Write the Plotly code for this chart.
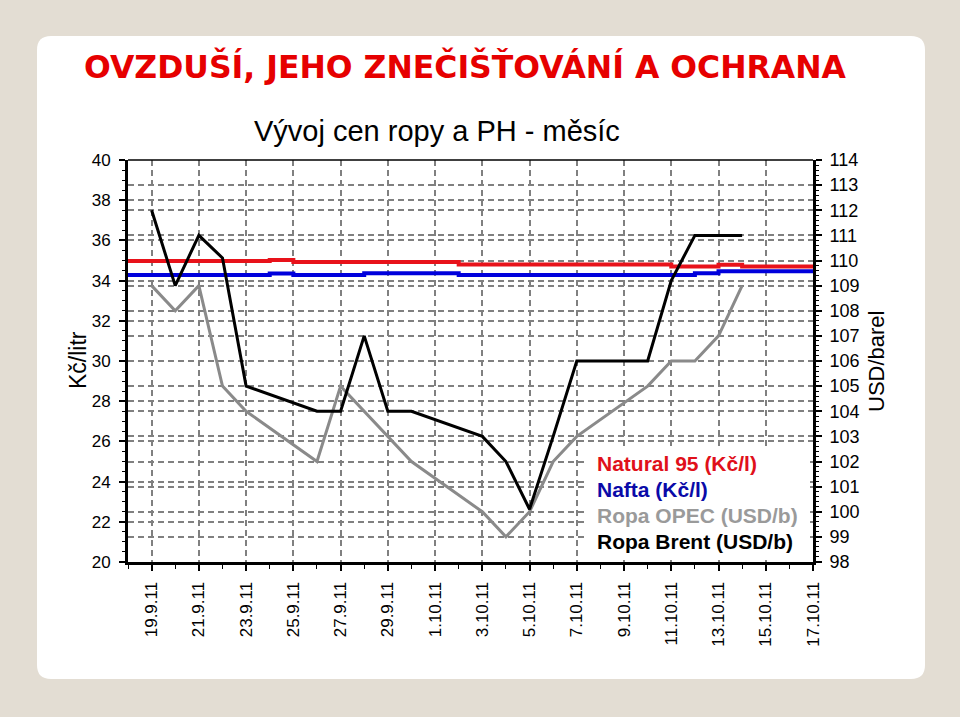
import plotly.graph_objects as go

# ---------------- data ----------------
all_days = ["2011-09-18", "2011-09-19", "2011-09-20", "2011-09-21", "2011-09-22", "2011-09-23",
            "2011-09-24", "2011-09-25", "2011-09-26", "2011-09-27", "2011-09-28", "2011-09-29",
            "2011-09-30", "2011-10-01", "2011-10-02", "2011-10-03", "2011-10-04", "2011-10-05",
            "2011-10-06", "2011-10-07", "2011-10-08", "2011-10-09", "2011-10-10", "2011-10-11",
            "2011-10-12", "2011-10-13", "2011-10-14", "2011-10-15", "2011-10-16", "2011-10-17"]

natural95 = [34.97, 34.97, 34.97, 34.97, 34.97, 34.97, 35.02, 34.92, 34.92, 34.92, 34.92, 34.92,
             34.92, 34.92, 34.80, 34.80, 34.80, 34.80, 34.80, 34.80, 34.80, 34.80, 34.80, 34.70,
             34.70, 34.79, 34.70, 34.70, 34.70, 34.70]
nafta = [34.28, 34.28, 34.28, 34.28, 34.28, 34.28, 34.35, 34.28, 34.28, 34.28, 34.36, 34.36,
         34.36, 34.36, 34.28, 34.28, 34.28, 34.28, 34.28, 34.28, 34.28, 34.28, 34.28, 34.28,
         34.36, 34.47, 34.47, 34.47, 34.47, 34.47]

trade_days = ["2011-09-19", "2011-09-20", "2011-09-21", "2011-09-22", "2011-09-23",
              "2011-09-26", "2011-09-27", "2011-09-28", "2011-09-29", "2011-09-30",
              "2011-10-03", "2011-10-04", "2011-10-05", "2011-10-06", "2011-10-07",
              "2011-10-10", "2011-10-11", "2011-10-12", "2011-10-13", "2011-10-14"]
ropa_opec = [109.0, 108.0, 109.0, 105.0, 104.0,
             102.0, 105.0, 104.0, 103.0, 102.0,
             100.0, 99.0, 100.0, 102.0, 103.0,
             105.0, 106.0, 106.0, 107.0, 109.0]
ropa_brent = [112.0, 109.0, 111.0, 110.1, 105.0,
              104.0, 104.0, 107.0, 104.0, 104.0,
              103.0, 102.0, 100.1, 103.0, 106.0,
              106.0, 109.2, 111.0, 111.0, 111.0]

tick_dates = ["2011-09-19", "2011-09-21", "2011-09-23", "2011-09-25", "2011-09-27", "2011-09-29",
              "2011-10-01", "2011-10-03", "2011-10-05", "2011-10-07", "2011-10-09", "2011-10-11",
              "2011-10-13", "2011-10-15", "2011-10-17"]
tick_labels = ["19.9.11", "21.9.11", "23.9.11", "25.9.11", "27.9.11", "29.9.11",
               "1.10.11", "3.10.11", "5.10.11", "7.10.11", "9.10.11", "11.10.11",
               "13.10.11", "15.10.11", "17.10.11"]

series_names = ["Natural 95 (Kč/l)", "Nafta (Kč/l)", "Ropa OPEC (USD/b)", "Ropa Brent (USD/b)"]

# ---------------- layout geometry (pixels) ----------------
W, H = 960, 717
L, R, T, B = 128, 813, 160, 562   # plot area edges
PW, PH = R - L, B - T


def px(x):
    return (x - L) / PW


def py(y):
    return (B - y) / PH


RED = "#e8121a"
BLUE = "#0000dc"
GREY = "#8a8a8a"
BLACK = "#000000"

fig = go.Figure()
fig.add_trace(go.Scatter(x=all_days, y=natural95, mode="lines", line=dict(color=RED, width=4, shape="hv"),
                         name=series_names[0], showlegend=False))
fig.add_trace(go.Scatter(x=all_days, y=nafta, mode="lines", line=dict(color=BLUE, width=4, shape="hv"),
                         name=series_names[1], showlegend=False))
fig.add_trace(go.Scatter(x=trade_days, y=ropa_opec, mode="lines", line=dict(color=GREY, width=3),
                         name=series_names[2], yaxis="y2", showlegend=False))
fig.add_trace(go.Scatter(x=trade_days, y=ropa_brent, mode="lines", line=dict(color=BLACK, width=3),
                         name=series_names[3], yaxis="y2", showlegend=False))

tickfont = dict(family="Liberation Sans, Arial", size=17, color="black")
grid = dict(showgrid=True, gridcolor="#808080", gridwidth=1.5, griddash="6px,4px")

fig.update_layout(
    width=W, height=H,
    margin=dict(l=L, r=W - R, t=T, b=H - B, pad=0),
    paper_bgcolor="#e3ddd3",
    plot_bgcolor="white",
    showlegend=False,
    xaxis=dict(type="date", range=[all_days[0], all_days[-1]],
               tickmode="array", tickvals=tick_dates, ticktext=tick_labels, tickangle=-90,
               tickfont=tickfont, ticks="outside", ticklen=6, tickwidth=1.5, tickcolor="black",
               ticklabelstandoff=4,
               minor=dict(dtick=86400000, tick0=all_days[0], ticks="outside", ticklen=4,
                          tickwidth=1.2, tickcolor="black", showgrid=False),
               showline=True, linecolor="black", linewidth=3, zeroline=False, **grid),
    yaxis=dict(range=[20, 40], tickmode="linear", tick0=20, dtick=2,
               tickfont=tickfont, ticks="outside", ticklen=6, tickwidth=1.5, tickcolor="black",
               ticklabelstandoff=5,
               minor=dict(dtick=0.5, ticks="outside", ticklen=3, tickwidth=1, tickcolor="black",
                          showgrid=False),
               showline=True, linecolor="black", linewidth=3, zeroline=False, **grid),
    yaxis2=dict(range=[98, 114], tickmode="linear", tick0=98, dtick=1, overlaying="y", side="right",
                tickfont=dict(family="Liberation Sans, Arial", size=18, color="black"),
                ticks="outside", ticklen=6, tickwidth=1.5, tickcolor="black", ticklabelstandoff=4,
                minor=dict(dtick=0.2, ticks="outside", ticklen=3, tickwidth=1, tickcolor="black",
                           showgrid=False),
                showline=True, linecolor="black", linewidth=3, zeroline=False, **grid),
)


def rounded_path(x0, y0, x1, y1, r):
    pts = [
        ("M", [(x0 + r, y0)]),
        ("L", [(x1 - r, y0)]),
        ("Q", [(x1, y0), (x1, y0 + r)]),
        ("L", [(x1, y1 - r)]),
        ("Q", [(x1, y1), (x1 - r, y1)]),
        ("L", [(x0 + r, y1)]),
        ("Q", [(x0, y1), (x0, y1 - r)]),
        ("L", [(x0, y0 + r)]),
        ("Q", [(x0, y0), (x0 + r, y0)]),
    ]
    s = ""
    for cmd, ps in pts:
        s += cmd + " " + " ".join(f"{px(a):.5f},{py(b):.5f}" for a, b in ps) + " "
    return s + "Z"


shapes = [
    # white slide panel
    dict(type="path", xref="paper", yref="paper", layer="below",
         path=rounded_path(37, 36, 925, 679, 14), fillcolor="white", line=dict(width=0)),
    # legend box (hides grid; no data lines pass through this area)
    dict(type="rect", xref="paper", yref="paper", layer="above",
         x0=px(585), x1=px(810), y0=py(556), y1=py(446), fillcolor="white", line=dict(width=0)),
    # thin top frame line
    dict(type="line", xref="paper", yref="paper", x0=0, x1=1, y0=1, y1=1,
         line=dict(color="black", width=1.5), layer="above"),
]
fig.update_layout(shapes=shapes)

ann = [
    dict(text="OVZDUŠÍ, JEHO ZNEČIŠŤOVÁNÍ A OCHRANA", x=px(82), y=py(66), xref="paper", yref="paper",
         xanchor="left", yanchor="middle", showarrow=False,
         font=dict(family="DejaVu Sans", size=31.5, color="#e60000", weight="bold")),
    dict(text="Vývoj cen ropy a PH - měsíc", x=px(437), y=py(131), xref="paper", yref="paper",
         xanchor="center", yanchor="middle", showarrow=False,
         font=dict(family="Liberation Sans, Arial", size=29, color="black")),
    dict(text="Kč/litr", x=px(78), y=py(360), xref="paper", yref="paper", textangle=-90,
         xanchor="center", yanchor="middle", showarrow=False,
         font=dict(family="Liberation Sans, Arial", size=23, color="black")),
    dict(text="USD/barel", x=px(876), y=py(361), xref="paper", yref="paper", textangle=-90,
         xanchor="center", yanchor="middle", showarrow=False,
         font=dict(family="Liberation Sans, Arial", size=22, color="black")),
]
legend_colors = ["#e0101a", "#0a0aa8", "#9a9a9a", "#000000"]
legend_y = [463, 489, 515, 541]
for name, col, yy in zip(series_names, legend_colors, legend_y):
    ann.append(dict(text=name, x=px(595), y=py(yy), xref="paper", yref="paper",
                    xanchor="left", yanchor="middle", showarrow=False,
                    font=dict(family="Liberation Sans, Arial", size=21, color=col, weight="bold")))
fig.update_layout(annotations=ann)

fig.write_html("out.html", config={"displayModeBar": False})
